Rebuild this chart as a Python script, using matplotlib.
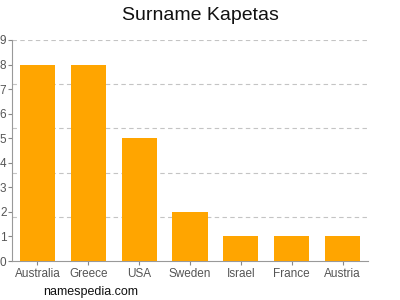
import matplotlib
matplotlib.use("Agg")
import matplotlib.pyplot as plt
import numpy as np

plt.rcParams["font.family"] = ["Liberation Sans", "DejaVu Sans"]

countries = ["Australia", "Greece", "USA", "Sweden", "Israel", "France", "Austria"]
counts = [8, 8, 5, 2, 1, 1, 1]
yticks = list(range(0, 10))
grid_levels = [1.8, 3.6, 5.4, 7.2, 9.0]

fig = plt.figure(figsize=(4, 3), dpi=100)
ax = fig.add_axes([12/400, 39/300, (368-12)/400, (261-40)/300])

x = np.arange(len(countries))
ax.bar(x, counts, width=0.69, color="#FFA500", zorder=3)
ax.set_xlim(-0.5, len(countries) - 0.5)
ax.set_ylim(0, 9)

for g in grid_levels:
    ax.axhline(g, color="#c4c4c4", linestyle=(0, (4, 3)), linewidth=0.8, zorder=1)

ax.set_yticks(yticks)
ax.set_yticklabels([str(v) for v in yticks])
ax.set_xticks(x)
ax.set_xticklabels(countries)
ax.tick_params(axis="both", colors="#888888", labelcolor="#555555", labelsize=8.5, length=3, width=0.8, pad=2)
ax.tick_params(axis="y", pad=1)
for side in ["top", "right"]:
    ax.spines[side].set_visible(False)
for side in ["left", "bottom"]:
    ax.spines[side].set_color("#999999")
    ax.spines[side].set_linewidth(0.8)

fig.text(0.5, 1 - 15/300, "Surname Kapetas", ha="center", va="center", fontsize=14, color="#111111")
fig.text(43/400, 1 - 292/300, "namespedia.com", ha="left", va="center", fontsize=9, color="#111111")

fig.savefig("out.png", dpi=100)
